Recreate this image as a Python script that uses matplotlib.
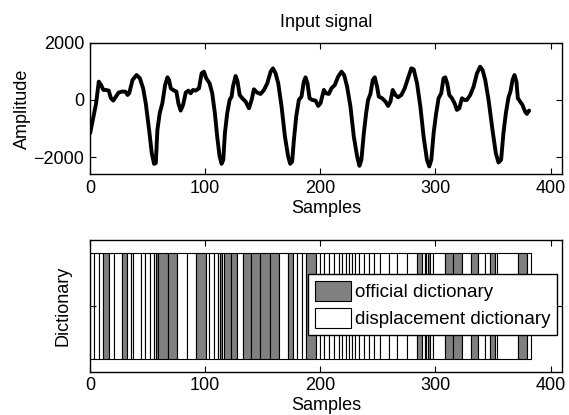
import matplotlib
matplotlib.use("Agg")
import matplotlib.pyplot as plt
from matplotlib.patches import Patch

plt.rcParams['font.family'] = ['Liberation Sans', 'DejaVu Sans']
plt.rcParams['font.size'] = 13

# --- Input signal (sample index, amplitude) ---
sig_x = [0.2, 2.5, 5.4, 7.7, 9.7, 11.7, 14, 16.3, 18.3, 20.3, 22.6, 24.9, 27.8, 30.7, 32.7, 34.1,
         37, 40.5, 43.4, 46.2, 48.5, 51.4, 53.7, 55.7, 57.2, 58.6, 60.6, 62.9, 65.3, 67.3, 68.7,
         70.2, 73.1, 75.1, 76.8, 78.8, 80.9, 83.2, 85.5, 87.5, 89.5, 91.8, 94.7, 97, 99, 101,
         103.9, 106.2, 108.5, 110.5, 112.6, 114.3, 115.8, 117.2, 119.2, 121.3, 123, 124.2, 126.5,
         128.2, 130, 132.3, 135.2, 138.1, 140.4, 142.4, 145.3, 148.2, 151.1, 154, 156.9, 158.9,
         161.2, 163.5, 166.4, 169.3, 172.1, 173.9, 175.6, 177.1, 179.1, 181.4, 183.7, 185.7,
         187.2, 188.9, 190.7, 193, 195.9, 198.2, 200.2, 203.1, 205.1, 207.4, 209.7, 212.6, 215.5,
         218.4, 220.7, 223.3, 226.2, 229.1, 232, 234, 235.7, 237.8, 239.8, 241.5, 243.5, 245.6,
         247.3, 249.3, 250.8, 253.7, 256.6, 258.9, 260.9, 262.9, 265.2, 267.5, 270.4, 273.3,
         276.1, 279, 281.1, 284, 286.9, 289.7, 292.6, 294.6, 296.4, 298.4, 300.4, 302.7, 305,
         307, 308.5, 310.2, 312, 314.3, 316.6, 318.6, 320.7, 323, 325.3, 327.3, 330.2, 333.1,
         336, 338.8, 340.9, 343.2, 346.1, 349.5, 352.4, 354.7, 357, 359, 361.1, 363.4, 365.1,
         366.9, 368.6, 370.3, 371.5, 373.5, 375.5, 377.8, 379.3, 381.3]
sig_y = [-1163, -698, -116, 640, 523, 349, 349, 326, 58, -23, 116, 256, 291, 291, 174, 233,
         698, 872, 756, 407, -116, -1047, -1861, -2233, -2210, -1047, -465, -116, 523, 791, 698,
         407, 326, 291, -116, -372, -174, 256, 326, 233, 349, 326, 407, 930, 989, 756,
         582, 233, -465, -1279, -1977, -2233, -2093, -1163, -465, 0, 116, 465, 837,
         640, 174, 58, -58, -291, 0, 372, 256, 209, 349, 582, 989, 1105,
         930, 582, -233, -1279, -1977, -2233, -2152, -1396, -582, 0, 116, 640,
         791, 582, 58, 0, -23, -209, -116, 349, 233, 209, 407, 523, 814,
         989, 872, 465, -233, -1279, -1977, -2303, -2093, -1163, -465, 0, 209, 698,
         791, 465, 116, 58, -58, -209, -58, 349, 174, 93, 174, 407,
         756, 1105, 1070, 582, -233, -1279, -2093, -2326, -2093, -1163, -523, 58, 233,
         756, 791, 582, 174, 58, -116, -349, -291, 58, 0, 0, 174, 465,
         930, 1163, 1047, 698, 0, -1047, -1861, -2187, -2093, -1163, -465, 93, 291,
         698, 872, 640, 58, -58, -174, -407, -488, -372]

# --- Dictionary segmentation (segment edges in samples, 1 = official, 0 = displacement) ---
seg_edges = [0, 3.5, 7.5, 11.8, 16.5, 21, 27.5, 32.5, 35.5, 37, 44, 47.5, 52, 55.5, 57.5, 59,
             67.5, 76, 84, 92, 101, 103.5, 107.5, 111.5, 113, 114.5, 116, 122.5, 128, 132.5,
             140, 148, 156, 164, 172, 176, 179.5, 184, 188, 196, 199.5, 203.5, 207.5, 212, 216,
             219, 222, 225, 227.5, 230.5, 234, 238, 242, 247, 252, 259.5, 266.5, 275, 284, 288,
             290.5, 292, 293.5, 295.5, 298, 308, 315.5, 323, 331, 337, 343, 347, 351.5, 353,
             371.5, 379.5, 383]
seg_type = [0, 0, 0, 1, 0, 0, 1, 0, 0, 0, 0, 0, 0, 0, 1, 1,
            1, 0, 0, 1, 0, 0, 0, 0, 1, 0, 1, 1, 0, 1,
            1, 1, 1, 0, 1, 0, 0, 0, 1, 0, 0, 0, 0, 0, 0,
            0, 0, 0, 0, 0, 0, 0, 0, 0, 0, 0, 0, 0, 1, 0,
            1, 0, 1, 0, 0, 1, 1, 0, 1, 0, 0, 1, 0, 0,
            1, 0]
legend_labels = ['official dictionary', 'displacement dictionary']
gray = '#808080'

fig = plt.figure(figsize=(5.69, 4.15), dpi=100)
ax1 = fig.add_axes([0.158, 0.58, 0.830, 0.317])
ax2 = fig.add_axes([0.158, 0.104, 0.830, 0.318])

ax1.plot(sig_x, sig_y, color='black', linewidth=2.8, solid_joinstyle='round',
         solid_capstyle='round')
ax1.set_xlim(0, 410)
ax1.set_ylim(-2600, 2000)
ax1.set_xticks([0, 100, 200, 300, 400])
ax1.set_yticks([-2000, 0, 2000])
ax1.set_yticklabels(['\u22122000', '0', '2000'])
ax1.set_title('Input signal', fontsize=13, pad=11)
ax1.set_xlabel('Samples', labelpad=2)
ax1.set_ylabel('Amplitude', labelpad=2)

lefts = seg_edges[:-1]
widths = [b - a for a, b in zip(seg_edges[:-1], seg_edges[1:])]
colors = [gray if t == 1 else 'white' for t in seg_type]
ax2.bar(lefts, [0.8] * len(lefts), width=widths, bottom=0.1, align='edge',
        color=colors, edgecolor='black', linewidth=0.8)
ax2.set_xlim(0, 410)
ax2.set_ylim(0, 1)
ax2.set_xticks([0, 100, 200, 300, 400])
ax2.set_yticks([0.5])
ax2.set_yticklabels([''])
ax2.set_xlabel('Samples', labelpad=2)
ax2.set_ylabel('Dictionary', labelpad=9)

for ax in (ax1, ax2):
    ax.tick_params(direction='in', top=True, right=True, length=4, width=0.8, labelsize=13, pad=4)
    for s in ax.spines.values():
        s.set_linewidth(1.0)

handles = [Patch(facecolor=gray, edgecolor='black', linewidth=0.8),
           Patch(facecolor='white', edgecolor='black', linewidth=0.8)]
leg = ax2.legend(handles, legend_labels, loc='upper right', bbox_to_anchor=(0.99, 0.74),
                 borderaxespad=0, handlelength=1.95, handleheight=1.3, handletextpad=0.22,
                 labelspacing=0.35, borderpad=0.35, fancybox=False, framealpha=1,
                 edgecolor='black', fontsize=13.5)
leg.get_frame().set_linewidth(1.0)

fig.savefig('out.png', dpi=100)
